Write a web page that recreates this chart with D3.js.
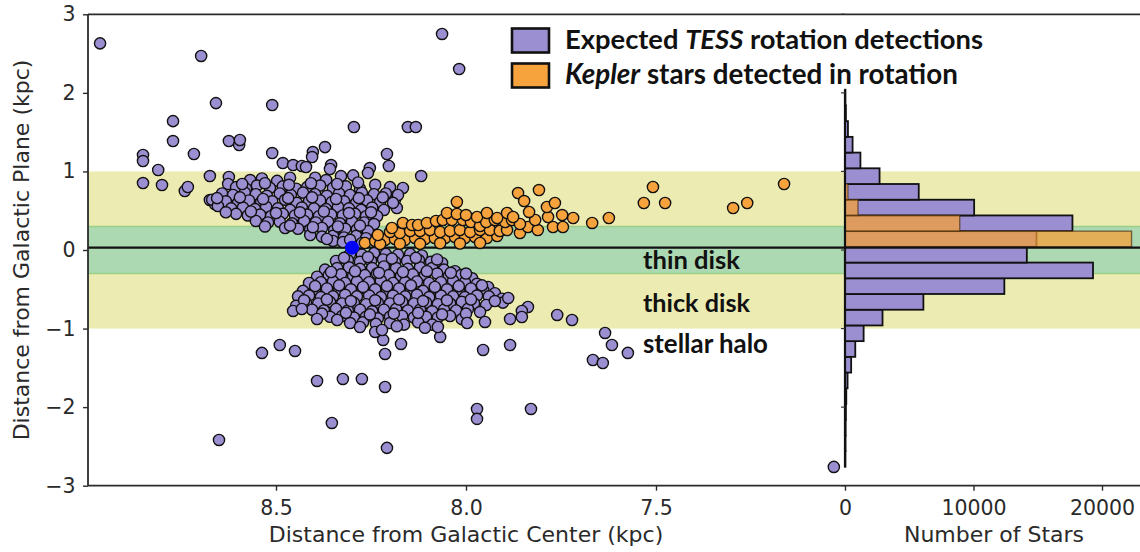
<!DOCTYPE html>
<html>
<head>
<meta charset="utf-8">
<script src="https://cdn.jsdelivr.net/npm/d3@7"></script>
<style>
  html, body { margin: 0; padding: 0; background: #fff; }
  svg { display: block; }
</style>
</head>
<body>
<svg id="chart" width="1140" height="552"></svg>
<script>
// ---------- data (R = distance from Galactic Center, z = height above plane, kpc) ----------

// Sun position
const sunPos = [8.30, 0.03];

// Galactic components, |z| limits in kpc
const thinDiskLimit = 0.3;
const thickDiskLimit = 1.0;
const zoneNames = ["thin disk", "thick disk", "stellar halo"];

// Expected TESS detections: sparse stars above the plane
const tessHaloUpper = [
  [8.963,2.63],[8.697,2.47],[8.658,1.87],[8.510,1.845],[8.771,1.64],[8.771,1.387],
  [8.624,1.387],[8.597,1.336],[8.595,1.40],[8.716,1.222],[8.850,1.209],[8.850,1.132],
  [8.510,1.234],[8.810,1.018],[8.295,1.565],[8.208,1.222],[8.203,1.069],[8.371,1.310],
  [8.403,1.247],[8.405,1.183],[8.482,1.107],[8.455,1.081],[8.432,1.069],[8.421,1.056],
  [8.355,1.081],[8.358,1.031],[8.063,2.75],[8.018,2.303],[8.153,1.565],[8.132,1.565],
  [8.118,0.941],[8.166,0.789],[8.850,0.852],[8.800,0.827],[8.740,0.751],[8.732,0.802],
  [8.674,0.941],[8.674,0.636],[8.661,0.585],[8.624,0.929],[8.626,0.840],[8.561,0.827],
  [8.253,1.043],[8.187,0.636],[8.226,0.547],[8.182,0.534]
];

// Expected TESS detections: dense wing above the plane
const tessWingUpper = [
  [8.568,0.89],[8.537,0.91],[8.497,0.88],[8.463,0.92],[8.397,0.92],[8.368,0.89],[8.329,0.94],[8.297,0.95],[8.258,0.98],
  [8.605,0.80],[8.579,0.78],[8.550,0.82],[8.516,0.79],[8.482,0.81],[8.447,0.78],[8.418,0.80],[8.384,0.82],[8.350,0.79],[8.316,0.81],[8.279,0.78],[8.239,0.83],[8.200,0.80],
  [8.642,0.72],[8.613,0.70],[8.582,0.73],[8.553,0.71],[8.524,0.69],[8.490,0.72],[8.461,0.70],[8.429,0.73],[8.397,0.71],[8.366,0.69],[8.334,0.72],[8.305,0.70],[8.274,0.73],[8.242,0.71],[8.211,0.72],[8.179,0.70],
  [8.668,0.64],[8.632,0.62],[8.600,0.60],[8.571,0.63],[8.539,0.61],[8.510,0.62],[8.476,0.64],[8.445,0.60],[8.413,0.62],[8.384,0.63],[8.353,0.61],[8.321,0.62],[8.289,0.60],[8.260,0.63],[8.226,0.61],[8.192,0.60],
  [8.653,0.56],[8.618,0.53],[8.587,0.54],[8.555,0.52],[8.526,0.55],[8.495,0.53],[8.463,0.51],[8.432,0.54],[8.400,0.53],[8.368,0.52],[8.337,0.55],[8.308,0.53],[8.276,0.51],[8.247,0.54],[8.216,0.51],
  [8.605,0.46],[8.574,0.44],[8.542,0.45],[8.513,0.43],[8.482,0.46],[8.450,0.44],[8.418,0.45],[8.387,0.43],[8.355,0.45],[8.324,0.44],[8.292,0.46],[8.263,0.43],[8.234,0.43],
  [8.553,0.37],[8.521,0.35],[8.490,0.36],[8.458,0.34],[8.426,0.37],[8.395,0.35],[8.363,0.36],[8.332,0.34],[8.300,0.36],[8.268,0.35],[8.242,0.33],
  [8.476,0.28],[8.442,0.27],[8.410,0.26],[8.379,0.28],[8.347,0.25],[8.318,0.27],[8.287,0.26],[8.258,0.24],
  [8.410,0.19],[8.379,0.17],[8.350,0.18],[8.321,0.16],[8.289,0.18],[8.263,0.15],
  [8.350,0.115],[8.324,0.10],[8.274,0.09],
  [8.589,0.84],[8.529,0.85],[8.466,0.83],[8.408,0.85],[8.339,0.84],[8.284,0.86],
  [8.655,0.66],[8.595,0.67],[8.534,0.65],[8.468,0.66],[8.405,0.67],[8.342,0.65],[8.282,0.66],[8.219,0.67],
  [8.632,0.48],[8.566,0.49],[8.500,0.47],[8.437,0.48],[8.374,0.49],[8.308,0.47],[8.250,0.48],
  [8.529,0.30],[8.463,0.31],[8.403,0.29],[8.337,0.30],[8.279,0.31],
  [8.366,0.14],[8.305,0.13]
];

// Expected TESS detections: dense wing below the plane
const tessWingLower = [
  [8.305,-0.05],[8.274,-0.06],[8.242,-0.04],[8.211,-0.05],[8.179,-0.06],[8.147,-0.05],[8.116,-0.07],
  [8.342,-0.14],[8.311,-0.13],[8.279,-0.15],[8.250,-0.14],[8.218,-0.12],[8.187,-0.15],[8.155,-0.14],[8.124,-0.13],[8.092,-0.15],[8.063,-0.165],
  [8.371,-0.25],[8.339,-0.23],[8.308,-0.22],[8.279,-0.24],[8.247,-0.23],[8.216,-0.21],[8.184,-0.23],[8.153,-0.24],[8.121,-0.22],[8.089,-0.23],[8.058,-0.25],[8.029,-0.27],
  [8.392,-0.34],[8.361,-0.32],[8.329,-0.31],[8.297,-0.33],[8.266,-0.32],[8.234,-0.30],[8.203,-0.32],[8.171,-0.33],[8.140,-0.31],[8.108,-0.32],[8.076,-0.30],[8.045,-0.33],[8.013,-0.32],[7.984,-0.36],
  [8.413,-0.42],[8.382,-0.41],[8.350,-0.40],[8.318,-0.42],[8.287,-0.40],[8.255,-0.41],[8.224,-0.39],[8.192,-0.42],[8.160,-0.41],[8.129,-0.40],[8.097,-0.42],[8.066,-0.41],[8.034,-0.39],[8.003,-0.41],[7.971,-0.43],[7.942,-0.47],
  [8.429,-0.52],[8.397,-0.50],[8.366,-0.49],[8.334,-0.51],[8.303,-0.50],[8.271,-0.48],[8.239,-0.50],[8.208,-0.51],[8.176,-0.49],[8.145,-0.50],[8.113,-0.52],[8.082,-0.49],[8.050,-0.50],[8.019,-0.51],[7.987,-0.49],[7.955,-0.51],[7.924,-0.55],
  [8.442,-0.59],[8.413,-0.58],[8.382,-0.60],[8.350,-0.59],[8.318,-0.57],[8.287,-0.59],[8.255,-0.58],[8.224,-0.60],[8.192,-0.58],[8.160,-0.59],[8.129,-0.57],[8.097,-0.60],[8.066,-0.58],[8.034,-0.59],[8.003,-0.60],[7.971,-0.58],[7.940,-0.59],[7.905,-0.62],
  [8.447,-0.71],[8.421,-0.67],[8.389,-0.68],[8.358,-0.66],[8.326,-0.68],[8.295,-0.67],[8.263,-0.69],[8.232,-0.67],[8.200,-0.68],[8.168,-0.66],[8.137,-0.68],[8.105,-0.67],[8.074,-0.69],[8.042,-0.68],[8.011,-0.66],[7.979,-0.68],[7.947,-0.70],[7.903,-0.67],
  [8.405,-0.76],[8.374,-0.77],[8.342,-0.75],[8.311,-0.77],[8.279,-0.76],[8.247,-0.78],[8.216,-0.76],[8.184,-0.75],[8.153,-0.77],[8.121,-0.76],[8.089,-0.78],[8.058,-0.76],[8.026,-0.77],[7.995,-0.75],[7.963,-0.79],
  [8.358,-0.85],[8.326,-0.84],[8.295,-0.86],[8.263,-0.85],[8.232,-0.87],[8.200,-0.85],[8.168,-0.84],[8.137,-0.86],[8.105,-0.85],[8.074,-0.86],[8.042,-0.84],[8.011,-0.88],
  [8.305,-0.93],[8.271,-0.92],[8.237,-0.94],[8.200,-0.93],[8.163,-0.95],[8.126,-0.92],[8.089,-0.95],
  [8.321,-0.10],[8.258,-0.09],[8.195,-0.11],[8.132,-0.10],[8.076,-0.12],
  [8.355,-0.28],[8.292,-0.27],[8.229,-0.29],[8.166,-0.28],[8.103,-0.27],[8.040,-0.29],[8.000,-0.30],
  [8.397,-0.46],[8.334,-0.45],[8.271,-0.47],[8.208,-0.46],[8.145,-0.45],[8.082,-0.47],[8.019,-0.46],[7.958,-0.45],
  [8.426,-0.64],[8.366,-0.63],[8.303,-0.65],[8.239,-0.64],[8.176,-0.63],[8.113,-0.65],[8.050,-0.64],[7.987,-0.63],[7.924,-0.65],
  [8.379,-0.81],[8.316,-0.80],[8.253,-0.82],[8.190,-0.81],[8.126,-0.80],[8.063,-0.82],[8.000,-0.81],
  [8.279,-0.98],[8.182,-0.97],[8.108,-0.99]
];

// Expected TESS detections: sparse stars below the plane
const tessHaloLower = [
  [8.650,-2.418],[8.537,-1.310],[8.490,-1.209],[8.450,-1.285],[8.392,-1.667],[8.324,-1.641],
  [8.274,-1.641],[8.353,-2.201],[8.213,-1.743],[8.208,-2.519],[8.213,-1.323],[8.218,-1.145],
  [8.239,-1.043],[8.221,-1.018],[8.171,-1.196],[8.068,-1.107],[8.074,-0.980],[7.997,-0.929],
  [7.955,-1.272],[7.884,-1.209],[7.971,-2.023],[7.971,-2.150],[7.829,-2.023],[7.760,-0.827],
  [7.721,-0.891],[7.634,-1.056],[7.616,-1.209],[7.574,-1.310],[7.666,-1.400],[7.640,-1.438],
  [7.032,-2.761],[7.837,-0.725],[7.853,-0.776],[7.853,-0.853],[7.884,-0.878],[7.950,-0.916],
  [7.889,-0.611],[8.455,-0.776],[8.432,-0.751],[8.392,-0.878],[8.339,-0.891]
];

// Kepler stars detected in rotation
const keplerStars = [
  [8.266,0.089],[8.239,0.115],[8.213,0.127],[8.187,0.140],[8.161,0.127],[8.134,0.153],[8.108,0.140],
  [8.082,0.153],[8.055,0.153],[8.029,0.165],[8.003,0.153],[7.976,0.165],[7.945,0.153],[7.918,0.178],
  [8.226,0.075],[8.174,0.080],[8.121,0.078],[8.068,0.085],[8.016,0.082],[7.963,0.090],
  [8.232,0.191],[8.200,0.229],[8.174,0.216],[8.147,0.242],[8.121,0.242],[8.095,0.254],[8.068,0.229],
  [8.042,0.242],[8.016,0.254],[7.989,0.229],[7.963,0.254],[7.937,0.254],[7.911,0.242],[7.892,0.254],
  [7.858,0.216],[7.837,0.293],[7.811,0.254],[7.771,0.293],[7.745,0.293],
  [8.195,0.280],[8.166,0.344],[8.142,0.318],[8.126,0.318],[8.103,0.344],[8.079,0.369],[8.061,0.382],
  [8.037,0.382],[8.008,0.382],[7.987,0.356],[7.963,0.305],[7.947,0.356],[7.924,0.382],[7.897,0.356],
  [7.879,0.382],[7.858,0.331],[7.818,0.382],[7.784,0.420],[7.747,0.445],[7.718,0.407],[7.668,0.344],
  [7.624,0.407],
  [8.050,0.471],[8.024,0.458],[8.000,0.445],[7.971,0.420],[7.945,0.471],[7.918,0.407],[7.892,0.471],
  [7.876,0.420],[7.834,0.484],
  [8.024,0.611],[7.863,0.725],[7.847,0.623],[7.808,0.763],[7.787,0.547],[7.766,0.598],
  [7.508,0.802],[7.532,0.598],[7.476,0.598],[7.297,0.534],[7.260,0.598],[7.163,0.840]
];

// Histogram of z: bin edges (kpc) and star counts per bin, bottom to top
const histBinEdges = [-2.76,-2.56,-2.36,-2.16,-1.96,-1.76,-1.56,-1.36,-1.16,-0.96,-0.76,-0.56,-0.36,-0.16,0.04,0.24,0.44,0.64,0.84,1.04,1.24,1.44,1.64,1.84,2.04];
const tessCounts   = [30,40,50,70,100,200,480,800,1450,2920,6100,12400,19300,14150,14900,17700,10050,5740,2690,1200,590,230,70,30];
const keplerCounts = [0,0,0,0,0,0,0,0,0,0,0,0,0,0,22300,8930,1010,230,0,0,0,0,0,0];

// Axis ticks
const zTicks = [-3,-2,-1,0,1,2,3];
const rTicks = [8.5,8.0,7.5];
const countTicks = [0,10000,20000];

// ---------- layout ----------
const svg = d3.select("#chart");
const plotL = 88, plotR = 1140, plotT = 14.3, plotB = 485.7;
const x = d3.scaleLinear().domain([9.0, 7.0]).range([86, 846]);
const y = d3.scaleLinear().domain([-3, 3]).range([plotB, plotT]);
const hx = d3.scaleLinear().domain([0, 10000]).range([845, 973.5]);

const purple = "#9c8fd1", orange = "#f6a33e", ink = "#111";
const textInk = "#2a2a2a";

svg.append("rect").attr("width", 1140).attr("height", 552).attr("fill", "#fff");

// component bands
svg.append("rect")
  .attr("x", plotL).attr("width", plotR - plotL)
  .attr("y", y(thickDiskLimit)).attr("height", y(-thickDiskLimit) - y(thickDiskLimit))
  .attr("fill", "#ecebb1");
svg.append("rect")
  .attr("x", plotL).attr("width", plotR - plotL)
  .attr("y", y(thinDiskLimit)).attr("height", y(-thinDiskLimit) - y(thinDiskLimit))
  .attr("fill", "#acd8b2");
[thinDiskLimit, -thinDiskLimit].forEach(v => {
  svg.append("line").attr("x1", plotL).attr("x2", plotR)
    .attr("y1", y(v)).attr("y2", y(v))
    .attr("stroke", "#98d088").attr("stroke-width", 1.6);
});

// histogram
const bins = tessCounts.map((c, i) => ({ lo: histBinEdges[i], hi: histBinEdges[i + 1], tess: c, kepler: keplerCounts[i] }));
const hist = svg.append("g");
hist.selectAll("rect.tess").data(bins).join("rect")
  .attr("class", "tess")
  .attr("x", hx(0)).attr("y", d => y(d.hi))
  .attr("width", d => hx(d.tess) - hx(0)).attr("height", d => y(d.lo) - y(d.hi))
  .attr("fill", purple).attr("stroke", ink).attr("stroke-width", 1.8);
hist.selectAll("rect.kepler").data(bins.filter(d => d.kepler > 0)).join("rect")
  .attr("class", "kepler")
  .attr("x", hx(0)).attr("y", d => y(d.hi))
  .attr("width", d => hx(d.kepler) - hx(0)).attr("height", d => y(d.lo) - y(d.hi))
  .attr("fill", "rgba(246,160,52,0.72)").attr("stroke", "rgba(70,45,20,0.65)").attr("stroke-width", 1.4);
hist.append("line")
  .attr("x1", hx(0)).attr("x2", hx(0))
  .attr("y1", y(histBinEdges[histBinEdges.length - 1])).attr("y2", y(histBinEdges[0]))
  .attr("stroke", ink).attr("stroke-width", 2.2);
hist.selectAll("line.ht").data(zTicks).join("line")
  .attr("class", "ht")
  .attr("x1", hx(0) - 4).attr("x2", hx(0))
  .attr("y1", d => y(d)).attr("y2", d => y(d))
  .attr("stroke", "#333").attr("stroke-width", 1.2);

// plane through the Sun
svg.append("line").attr("x1", plotL).attr("x2", plotR)
  .attr("y1", y(sunPos[1])).attr("y2", y(sunPos[1]))
  .attr("stroke", ink).attr("stroke-width", 2.3);

// scatter
const tessStars = [].concat(tessHaloUpper, tessWingUpper, tessWingLower, tessHaloLower);
const dots = svg.append("g");
dots.selectAll("circle.tess").data(tessStars).join("circle")
  .attr("class", "tess")
  .attr("cx", d => x(d[0])).attr("cy", d => y(d[1])).attr("r", 5.6)
  .attr("fill", purple).attr("stroke", ink).attr("stroke-width", 1.4);
dots.selectAll("circle.kepler").data(keplerStars).join("circle")
  .attr("class", "kepler")
  .attr("cx", d => x(d[0])).attr("cy", d => y(d[1])).attr("r", 5.6)
  .attr("fill", orange).attr("stroke", ink).attr("stroke-width", 1.4);
svg.append("circle")
  .attr("cx", x(sunPos[0])).attr("cy", y(sunPos[1])).attr("r", 7)
  .attr("fill", "#0000ff");

// spines
const spine = svg.append("g").attr("stroke", "#2b2b2b").attr("stroke-width", 1.8).attr("fill", "none");
spine.append("line").attr("x1", plotL).attr("x2", plotR).attr("y1", plotT).attr("y2", plotT);
spine.append("line").attr("x1", plotL).attr("x2", plotR).attr("y1", plotB).attr("y2", plotB);
spine.append("line").attr("x1", plotL).attr("x2", plotL).attr("y1", plotT).attr("y2", plotB);

// axes
const tickFont = "DejaVu Sans, sans-serif";
function styleAxis(g) {
  g.select(".domain").remove();
  g.selectAll(".tick line").attr("stroke", "#2b2b2b").attr("stroke-width", 1.4);
  g.selectAll(".tick text").attr("fill", textInk).attr("font-family", tickFont).attr("font-size", 20.5);
}
svg.append("g").attr("transform", `translate(${plotL},0)`)
  .call(d3.axisLeft(y).tickValues(zTicks).tickFormat(d3.format("d")).tickSize(5).tickPadding(7.5))
  .call(styleAxis);
svg.append("g").attr("transform", `translate(0,${plotB})`)
  .call(d3.axisBottom(x).tickValues(rTicks).tickFormat(d3.format(".1f")).tickSize(5).tickPadding(10))
  .call(styleAxis);
svg.append("g").attr("transform", `translate(0,${plotB})`)
  .call(d3.axisBottom(hx).tickValues(countTicks).tickFormat(d3.format("d")).tickSize(5).tickPadding(10))
  .call(styleAxis);

// axis titles
svg.append("text").attr("x", 466).attr("y", 542).attr("text-anchor", "middle")
  .attr("font-family", tickFont).attr("font-size", 22).attr("fill", textInk)
  .text("Distance from Galactic Center (kpc)");
svg.append("text").attr("x", 994).attr("y", 542).attr("text-anchor", "middle")
  .attr("font-family", tickFont).attr("font-size", 22).attr("fill", textInk)
  .text("Number of Stars");
svg.append("text").attr("transform", "translate(29,250) rotate(-90)").attr("text-anchor", "middle")
  .attr("font-family", tickFont).attr("font-size", 22).attr("fill", textInk)
  .text("Distance from Galactic Plane (kpc)");

// text fitted to a given width
const boldFont = "Lato, 'Open Sans', sans-serif";
function fitTo(t, w) {
  const len = t.node().getComputedTextLength();
  const fs = parseFloat(t.attr("font-size"));
  if (len > 0) t.attr("font-size", (fs * w / len).toFixed(2));
  return t;
}

// zone labels
const zoneLabelPos = [[643, 269, 97], [643, 312, 107], [643, 353, 125]];
zoneNames.forEach((name, i) => {
  const [lx, ly, lw] = zoneLabelPos[i];
  const t = svg.append("text").attr("x", lx).attr("y", ly)
    .attr("font-family", boldFont).attr("font-weight", 700).attr("font-size", 23)
    .attr("fill", "#111").text(name);
  fitTo(t, lw);
});

// legend
const legendItems = [
  { fill: purple, parts: [["Expected ", false], ["TESS", true], [" rotation detections", false]], y: 28.5, width: 418 },
  { fill: orange, parts: [["Kepler", true], [" stars detected in rotation", false]], y: 63.5, width: 393 }
];
legendItems.forEach(item => {
  svg.append("rect").attr("x", 512).attr("y", item.y).attr("width", 37).attr("height", 24)
    .attr("fill", item.fill).attr("stroke", "#111").attr("stroke-width", 2.6);
  const t = svg.append("text").attr("x", 565).attr("y", item.y + 20)
    .attr("font-family", boldFont).attr("font-weight", 700).attr("font-size", 24).attr("fill", "#111");
  item.parts.forEach(([s, it]) => {
    t.append("tspan").attr("font-style", it ? "italic" : "normal").text(s);
  });
  fitTo(t, item.width);
});
</script>
</body>
</html>
